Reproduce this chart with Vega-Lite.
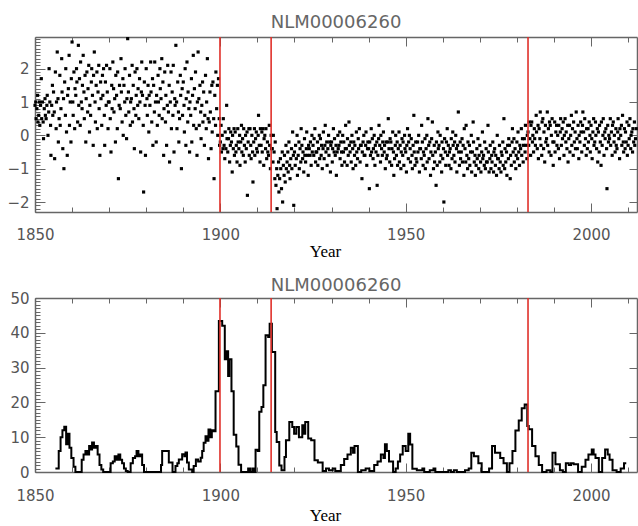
{
"$schema": "https://vega.github.io/schema/vega-lite/v6.json",
"padding": {"left": 6, "top": 13, "right": 0, "bottom": 0},
"config": {"view": {"stroke": null}, "axis": {"domainColor": "#666", "domainWidth": 1.5, "tickColor": "#666", "tickWidth": 1, "labelFont": "DejaVu Sans", "labelFontSize": 15, "labelColor": "#555", "grid": false}},
"spacing": 18,
"datasets": {
"brk": [{"yr": 1899.9}, {"yr": 1913.7}, {"yr": 1983.0}],
"st": [
{"t":1855.5,"v":1},{"t":1856.4,"v":6},{"t":1856.9,"v":10},{"t":1857.4,"v":12},{"t":1857.9,"v":13},{"t":1858.4,"v":8},{"t":1858.8,"v":11},{"t":1859.3,"v":7},{"t":1859.8,"v":4},{"t":1860.4,"v":1.5},{"t":1860.9,"v":0},
{"t":1862.6,"v":3.5},{"t":1863.1,"v":5},{"t":1863.6,"v":6},{"t":1864.1,"v":5},{"t":1864.6,"v":7.5},{"t":1865.1,"v":6.5},{"t":1865.4,"v":8.5},{"t":1865.9,"v":7},{"t":1866.4,"v":7.5},{"t":1866.9,"v":5},{"t":1867.4,"v":2},{"t":1867.9,"v":0.7},{"t":1868.4,"v":0},
{"t":1870.4,"v":2.5},{"t":1871.0,"v":3},{"t":1871.5,"v":4.5},{"t":1872.0,"v":3.5},{"t":1872.5,"v":5},{"t":1873.0,"v":3.5},{"t":1873.5,"v":2.5},{"t":1874.0,"v":1},{"t":1874.5,"v":0.3},{"t":1875.0,"v":0},
{"t":1875.8,"v":2.5},{"t":1876.4,"v":4},{"t":1877.0,"v":4.5},{"t":1877.4,"v":6},{"t":1877.9,"v":4.5},{"t":1878.4,"v":5},{"t":1878.9,"v":2},{"t":1879.4,"v":0},
{"t":1884.0,"v":2},{"t":1884.3,"v":6},{"t":1886.1,"v":2.7},{"t":1887.1,"v":0},{"t":1887.9,"v":1.7},{"t":1888.4,"v":2.5},{"t":1888.8,"v":3.6},{"t":1889.7,"v":5.1},{"t":1890.3,"v":4.5},{"t":1890.6,"v":5.6},{"t":1891.0,"v":2.7},{"t":1891.5,"v":0.7},{"t":1892.4,"v":0},
{"t":1892.8,"v":1.7},{"t":1893.4,"v":3.6},{"t":1894.0,"v":3},{"t":1894.7,"v":4.1},{"t":1895.1,"v":6},{"t":1895.5,"v":8.4},{"t":1896.0,"v":10.3},{"t":1896.4,"v":9},{"t":1896.8,"v":12.2},{"t":1897.3,"v":10},{"t":1897.7,"v":12},{"t":1898.2,"v":11.7},
{"t":1898.7,"v":23.2},{"t":1899.6,"v":43.4},{"t":1900.5,"v":42},{"t":1901.2,"v":32.4},{"t":1901.7,"v":34.7},{"t":1902.1,"v":27.6},{"t":1902.4,"v":32.4},{"t":1903.0,"v":23.2},{"t":1903.6,"v":10.7},{"t":1904.3,"v":7.3},{"t":1904.9,"v":2.1},{"t":1905.6,"v":0},
{"t":1907.5,"v":1},{"t":1908.0,"v":0},{"t":1908.6,"v":1},{"t":1909.0,"v":0},{"t":1909.5,"v":6.4},{"t":1910.1,"v":6},{"t":1910.5,"v":17.3},{"t":1911.1,"v":18.7},{"t":1911.6,"v":24.9},{"t":1912.2,"v":39.3},{"t":1912.9,"v":38.8},{"t":1913.3,"v":42.6},{"t":1913.9,"v":34.5},
{"t":1914.8,"v":11.5},{"t":1915.2,"v":8.6},{"t":1915.9,"v":1.9},{"t":1916.5,"v":0.5},{"t":1917.3,"v":4.3},{"t":1917.7,"v":9.1},{"t":1918.6,"v":14.4},{"t":1919.4,"v":12.9},{"t":1919.9,"v":11},{"t":1920.5,"v":12.9},{"t":1921.2,"v":10},{"t":1922.1,"v":13.4},{"t":1922.5,"v":11},{"t":1922.9,"v":14.4},{"t":1923.7,"v":9.6},{"t":1924.5,"v":9.1},{"t":1925.4,"v":3.4},
{"t":1926.3,"v":2.7},{"t":1927.6,"v":0.3},{"t":1928.5,"v":1},{"t":1929.3,"v":0.5},{"t":1930.3,"v":1},{"t":1931.0,"v":0.3},{"t":1932.5,"v":2},{"t":1933.4,"v":3.7},{"t":1934.3,"v":5},{"t":1935.2,"v":7},{"t":1935.8,"v":5.5},{"t":1936.2,"v":7.5},{"t":1937.1,"v":0},
{"t":1938.0,"v":0.5},{"t":1939.2,"v":1},{"t":1940.2,"v":0.3},{"t":1941.5,"v":2},{"t":1942.4,"v":3},{"t":1943.3,"v":5},{"t":1944.0,"v":4},{"t":1944.4,"v":8},{"t":1944.9,"v":6},{"t":1945.5,"v":3},{"t":1946.6,"v":0},
{"t":1947.3,"v":1},{"t":1947.9,"v":3},{"t":1948.5,"v":5},{"t":1949.2,"v":7.5},{"t":1950.0,"v":6},{"t":1950.7,"v":11},{"t":1951.2,"v":7.9},{"t":1951.8,"v":0.9},{"t":1953.0,"v":0.5},{"t":1954.5,"v":1},{"t":1955.0,"v":0},
{"t":1956.5,"v":0.5},{"t":1957.5,"v":1},{"t":1958.0,"v":0},{"t":1961.5,"v":0.5},{"t":1962.2,"v":0},{"t":1963.0,"v":0.5},{"t":1963.8,"v":0},{"t":1966.0,"v":0.5},{"t":1967.0,"v":1},
{"t":1967.7,"v":5.5},{"t":1968.4,"v":4.5},{"t":1969.6,"v":2.5},{"t":1970.5,"v":0},{"t":1972.5,"v":1},{"t":1973.3,"v":7.5},{"t":1974.1,"v":5.5},{"t":1975.5,"v":4},{"t":1976.4,"v":2.5},{"t":1977.3,"v":0},
{"t":1978.0,"v":2.5},{"t":1978.8,"v":6},{"t":1979.6,"v":11.9},{"t":1980.5,"v":14.8},{"t":1981.3,"v":18.3},{"t":1982.1,"v":19.4},{"t":1982.8,"v":13.2},{"t":1983.2,"v":12.3},{"t":1984.1,"v":7.5},{"t":1985.0,"v":4.5},{"t":1985.9,"v":2},{"t":1986.8,"v":0},
{"t":1988.0,"v":0.5},{"t":1989.0,"v":0},{"t":1989.6,"v":5.5},{"t":1990.4,"v":2.2},{"t":1991.6,"v":0.5},{"t":1992.4,"v":0},{"t":1993.2,"v":2.5},{"t":1994.0,"v":2},{"t":1994.6,"v":2.5},{"t":1995.3,"v":2.2},{"t":1996.5,"v":0},
{"t":1997.5,"v":1.5},{"t":1998.5,"v":3.5},{"t":1999.3,"v":5},{"t":2000.2,"v":6.5},{"t":2000.7,"v":5},{"t":2001.2,"v":4},{"t":2002.1,"v":0},{"t":2003.0,"v":4},{"t":2003.8,"v":6.5},{"t":2004.5,"v":5},{"t":2005.0,"v":3.5},{"t":2005.8,"v":0.5},{"t":2006.9,"v":0},{"t":2008.0,"v":1},{"t":2008.9,"v":2.5},{"t":2009.5,"v":2.5}
],
"pts": [
{"t":1850.0,"v":0.9},{"t":1850.2,"v":1.0},{"t":1850.3,"v":0.5},{"t":1850.5,"v":0.8},{"t":1850.7,"v":1.2},{"t":1850.8,"v":0.4},
{"t":1851.0,"v":0.6},{"t":1851.2,"v":1.0},{"t":1851.3,"v":0.3},{"t":1851.5,"v":0.9},{"t":1851.7,"v":1.7},{"t":1851.8,"v":0.5},
{"t":1852.0,"v":1.0},{"t":1852.2,"v":0.4},{"t":1852.3,"v":-0.1},{"t":1852.5,"v":0.8},{"t":1852.7,"v":1.1},{"t":1852.8,"v":0.6},
{"t":1853.0,"v":0.5},{"t":1853.2,"v":0.9},{"t":1853.3,"v":1.2},{"t":1853.5,"v":0.0},{"t":1853.7,"v":0.7},{"t":1853.8,"v":2.0},
{"t":1854.0,"v":1.0},{"t":1854.2,"v":0.3},{"t":1854.3,"v":-0.6},{"t":1854.5,"v":0.9},{"t":1854.7,"v":1.5},{"t":1854.8,"v":0.6},
{"t":1855.0,"v":1.3},{"t":1855.2,"v":0.7},{"t":1855.3,"v":-0.7},{"t":1855.5,"v":1.9},{"t":1855.7,"v":0.2},{"t":1855.8,"v":1.0},
{"t":1856.0,"v":2.5},{"t":1856.2,"v":1.1},{"t":1856.3,"v":-0.2},{"t":1856.5,"v":0.5},{"t":1856.7,"v":1.8},{"t":1856.8,"v":0.3},
{"t":1857.0,"v":0.8},{"t":1857.2,"v":2.3},{"t":1857.3,"v":1.3},{"t":1857.5,"v":-0.4},{"t":1857.7,"v":1.1},{"t":1857.8,"v":-1.0},
{"t":1858.0,"v":1.6},{"t":1858.2,"v":0.6},{"t":1858.3,"v":2.0},{"t":1858.5,"v":0.1},{"t":1858.7,"v":-0.6},{"t":1858.8,"v":1.2},
{"t":1859.0,"v":1.4},{"t":1859.2,"v":2.4},{"t":1859.3,"v":0.3},{"t":1859.5,"v":1.0},{"t":1859.7,"v":-0.2},{"t":1859.8,"v":1.7},
{"t":1860.0,"v":2.8},{"t":1860.2,"v":1.0},{"t":1860.3,"v":0.6},{"t":1860.5,"v":1.9},{"t":1860.7,"v":0.2},{"t":1860.8,"v":1.4},
{"t":1861.0,"v":1.2},{"t":1861.2,"v":2.0},{"t":1861.3,"v":1.6},{"t":1861.5,"v":0.4},{"t":1861.7,"v":2.7},{"t":1861.8,"v":0.9},
{"t":1862.0,"v":1.7},{"t":1862.2,"v":0.3},{"t":1862.3,"v":2.2},{"t":1862.5,"v":1.0},{"t":1862.7,"v":0.8},{"t":1862.8,"v":1.5},
{"t":1863.0,"v":2.4},{"t":1863.2,"v":1.3},{"t":1863.3,"v":0.5},{"t":1863.5,"v":1.8},{"t":1863.7,"v":-0.2},{"t":1863.8,"v":1.1},
{"t":1864.0,"v":1.9},{"t":1864.2,"v":0.7},{"t":1864.3,"v":1.4},{"t":1864.5,"v":2.1},{"t":1864.7,"v":0.1},{"t":1864.8,"v":0.9},
{"t":1865.0,"v":0.6},{"t":1865.2,"v":1.6},{"t":1865.3,"v":2.0},{"t":1865.5,"v":1.2},{"t":1865.7,"v":-0.3},{"t":1865.8,"v":1.8},
{"t":1866.0,"v":2.5},{"t":1866.2,"v":1.0},{"t":1866.3,"v":0.4},{"t":1866.5,"v":1.5},{"t":1866.7,"v":1.9},{"t":1866.8,"v":0.2},
{"t":1867.0,"v":1.3},{"t":1867.2,"v":2.1},{"t":1867.3,"v":0.8},{"t":1867.5,"v":-0.6},{"t":1867.7,"v":1.6},{"t":1867.8,"v":1.1},
{"t":1868.0,"v":0.3},{"t":1868.2,"v":1.8},{"t":1868.3,"v":1.2},{"t":1868.5,"v":2.0},{"t":1868.7,"v":0.6},{"t":1868.8,"v":-0.3},
{"t":1869.0,"v":1.6},{"t":1869.2,"v":0.9},{"t":1869.3,"v":2.1},{"t":1869.5,"v":1.3},{"t":1869.7,"v":0.2},{"t":1869.8,"v":1.0},
{"t":1870.0,"v":1.0},{"t":1870.2,"v":2.0},{"t":1870.3,"v":0.5},{"t":1870.5,"v":-0.5},{"t":1870.7,"v":1.5},{"t":1870.8,"v":0.8},
{"t":1871.0,"v":2.2},{"t":1871.2,"v":1.4},{"t":1871.3,"v":0.7},{"t":1871.5,"v":1.1},{"t":1871.7,"v":-0.2},{"t":1871.8,"v":1.8},
{"t":1872.0,"v":1.2},{"t":1872.2,"v":0.2},{"t":1872.3,"v":1.9},{"t":1872.5,"v":-1.3},{"t":1872.7,"v":0.9},{"t":1872.8,"v":1.5},
{"t":1873.0,"v":0.8},{"t":1873.2,"v":2.3},{"t":1873.3,"v":1.3},{"t":1873.5,"v":0.4},{"t":1873.7,"v":1.7},{"t":1873.8,"v":0.0},
{"t":1874.0,"v":1.5},{"t":1874.2,"v":1.0},{"t":1874.3,"v":2.0},{"t":1874.5,"v":0.6},{"t":1874.7,"v":-0.1},{"t":1874.8,"v":1.1},
{"t":1875.0,"v":2.9},{"t":1875.2,"v":1.3},{"t":1875.3,"v":0.7},{"t":1875.5,"v":1.8},{"t":1875.7,"v":0.3},{"t":1875.8,"v":1.0},
{"t":1876.0,"v":1.1},{"t":1876.2,"v":2.1},{"t":1876.3,"v":0.4},{"t":1876.5,"v":1.5},{"t":1876.7,"v":0.8},{"t":1876.8,"v":-0.4},
{"t":1877.0,"v":1.9},{"t":1877.2,"v":0.6},{"t":1877.3,"v":1.2},{"t":1877.5,"v":2.0},{"t":1877.7,"v":0.9},{"t":1877.8,"v":1.4},
{"t":1878.0,"v":0.5},{"t":1878.2,"v":1.7},{"t":1878.3,"v":1.0},{"t":1878.5,"v":-0.5},{"t":1878.7,"v":1.3},{"t":1878.8,"v":2.2},
{"t":1879.0,"v":1.2},{"t":1879.2,"v":0.3},{"t":1879.3,"v":-1.7},{"t":1879.5,"v":1.6},{"t":1879.7,"v":0.9},{"t":1879.8,"v":-0.6},
{"t":1880.0,"v":2.0},{"t":1880.2,"v":1.1},{"t":1880.3,"v":0.6},{"t":1880.5,"v":1.5},{"t":1880.7,"v":0.1},{"t":1880.8,"v":1.2},
{"t":1881.0,"v":0.9},{"t":1881.2,"v":2.2},{"t":1881.3,"v":1.3},{"t":1881.5,"v":0.4},{"t":1881.7,"v":1.7},{"t":1881.8,"v":-0.3},
{"t":1882.0,"v":1.5},{"t":1882.2,"v":0.7},{"t":1882.3,"v":2.2},{"t":1882.5,"v":1.0},{"t":1882.7,"v":-0.2},{"t":1882.8,"v":1.2},
{"t":1883.0,"v":0.3},{"t":1883.2,"v":1.8},{"t":1883.3,"v":1.0},{"t":1883.5,"v":0.6},{"t":1883.7,"v":2.0},{"t":1883.8,"v":1.4},
{"t":1884.0,"v":1.1},{"t":1884.2,"v":2.3},{"t":1884.3,"v":0.5},{"t":1884.5,"v":1.6},{"t":1884.7,"v":-0.6},{"t":1884.8,"v":0.8},
{"t":1885.0,"v":1.9},{"t":1885.2,"v":0.4},{"t":1885.3,"v":1.2},{"t":1885.5,"v":-0.3},{"t":1885.7,"v":0.9},{"t":1885.8,"v":2.1},
{"t":1886.0,"v":0.7},{"t":1886.2,"v":1.5},{"t":1886.3,"v":-0.8},{"t":1886.5,"v":1.0},{"t":1886.7,"v":1.9},{"t":1886.8,"v":0.2},
{"t":1887.0,"v":1.3},{"t":1887.2,"v":0.6},{"t":1887.3,"v":2.1},{"t":1887.5,"v":-0.5},{"t":1887.7,"v":1.1},{"t":1887.8,"v":0.9},
{"t":1888.0,"v":2.7},{"t":1888.2,"v":1.0},{"t":1888.3,"v":0.2},{"t":1888.5,"v":1.6},{"t":1888.7,"v":0.7},{"t":1888.8,"v":-0.2},
{"t":1889.0,"v":0.5},{"t":1889.2,"v":1.8},{"t":1889.3,"v":1.2},{"t":1889.5,"v":-1.0},{"t":1889.7,"v":1.4},{"t":1889.8,"v":0.6},
{"t":1890.0,"v":1.6},{"t":1890.2,"v":0.9},{"t":1890.3,"v":0.1},{"t":1890.5,"v":2.0},{"t":1890.7,"v":-0.3},{"t":1890.8,"v":1.1},
{"t":1891.0,"v":2.2},{"t":1891.2,"v":0.4},{"t":1891.3,"v":1.3},{"t":1891.5,"v":0.8},{"t":1891.7,"v":-0.5},{"t":1891.8,"v":1.0},
{"t":1892.0,"v":0.6},{"t":1892.2,"v":1.7},{"t":1892.3,"v":-0.2},{"t":1892.5,"v":1.2},{"t":1892.7,"v":2.4},{"t":1892.8,"v":0.3},
{"t":1893.0,"v":1.4},{"t":1893.2,"v":0.8},{"t":1893.3,"v":1.9},{"t":1893.5,"v":0.2},{"t":1893.7,"v":-0.6},{"t":1893.8,"v":1.0},
{"t":1894.0,"v":2.5},{"t":1894.2,"v":1.1},{"t":1894.3,"v":0.3},{"t":1894.5,"v":1.5},{"t":1894.7,"v":0.7},{"t":1894.8,"v":-0.1},
{"t":1895.0,"v":0.9},{"t":1895.2,"v":1.6},{"t":1895.3,"v":0.4},{"t":1895.5,"v":1.3},{"t":1895.7,"v":-0.3},{"t":1895.8,"v":0.6},
{"t":1896.0,"v":1.8},{"t":1896.2,"v":0.2},{"t":1896.3,"v":1.0},{"t":1896.5,"v":2.3},{"t":1896.7,"v":0.5},{"t":1896.8,"v":-0.7},
{"t":1897.0,"v":0.4},{"t":1897.2,"v":1.3},{"t":1897.3,"v":0.7},{"t":1897.5,"v":-0.4},{"t":1897.7,"v":1.5},{"t":1897.8,"v":0.1},
{"t":1898.0,"v":1.6},{"t":1898.2,"v":0.5},{"t":1898.3,"v":-1.3},{"t":1898.5,"v":1.2},{"t":1898.7,"v":0.3},{"t":1898.8,"v":1.9},
{"t":1899.0,"v":0.8},{"t":1899.2,"v":1.5},{"t":1899.3,"v":0.0},{"t":1899.5,"v":1.7},{"t":1899.7,"v":0.5},{"t":1899.8,"v":-0.3},
{"t":1900.0,"v":-0.2},{"t":1900.2,"v":0.3},{"t":1900.3,"v":-0.5},{"t":1900.5,"v":0.0},{"t":1900.7,"v":-0.4},{"t":1900.8,"v":0.5},
{"t":1901.0,"v":-0.3},{"t":1901.2,"v":-0.7},{"t":1901.3,"v":0.1},{"t":1901.5,"v":-0.4},{"t":1901.7,"v":0.9},{"t":1901.8,"v":-0.1},
{"t":1902.0,"v":-0.5},{"t":1902.2,"v":-0.1},{"t":1902.3,"v":0.2},{"t":1902.5,"v":-0.8},{"t":1902.7,"v":-0.3},{"t":1902.8,"v":0.1},
{"t":1903.0,"v":-0.2},{"t":1903.2,"v":-1.1},{"t":1903.3,"v":0.0},{"t":1903.5,"v":-0.4},{"t":1903.7,"v":0.2},{"t":1903.8,"v":-0.6},
{"t":1904.0,"v":0.1},{"t":1904.2,"v":-0.5},{"t":1904.3,"v":-0.3},{"t":1904.5,"v":-0.8},{"t":1904.7,"v":0.2},{"t":1904.8,"v":-0.2},
{"t":1905.0,"v":-0.4},{"t":1905.2,"v":0.0},{"t":1905.3,"v":-0.9},{"t":1905.5,"v":-0.2},{"t":1905.7,"v":0.3},{"t":1905.8,"v":-0.5},
{"t":1906.0,"v":-0.1},{"t":1906.2,"v":-0.6},{"t":1906.3,"v":0.2},{"t":1906.5,"v":-0.3},{"t":1906.7,"v":-0.8},{"t":1906.8,"v":0.0},
{"t":1907.0,"v":-0.4},{"t":1907.2,"v":0.1},{"t":1907.3,"v":-1.8},{"t":1907.5,"v":-0.2},{"t":1907.7,"v":0.2},{"t":1907.8,"v":-0.6},
{"t":1908.0,"v":0.2},{"t":1908.2,"v":-0.3},{"t":1908.3,"v":-0.7},{"t":1908.5,"v":0.0},{"t":1908.7,"v":-0.5},{"t":1908.8,"v":-1.4},
{"t":1909.0,"v":-0.2},{"t":1909.2,"v":0.2},{"t":1909.3,"v":-0.6},{"t":1909.5,"v":-0.1},{"t":1909.7,"v":0.1},{"t":1909.8,"v":-0.4},
{"t":1910.0,"v":-0.5},{"t":1910.2,"v":0.0},{"t":1910.3,"v":0.6},{"t":1910.5,"v":-0.3},{"t":1910.7,"v":-0.8},{"t":1910.8,"v":0.2},
{"t":1911.0,"v":-0.3},{"t":1911.2,"v":0.1},{"t":1911.3,"v":-0.5},{"t":1911.5,"v":0.2},{"t":1911.7,"v":-0.9},{"t":1911.8,"v":-0.1},
{"t":1912.0,"v":0.0},{"t":1912.2,"v":-0.4},{"t":1912.3,"v":0.2},{"t":1912.5,"v":-0.7},{"t":1912.7,"v":-0.2},{"t":1912.8,"v":-0.5},
{"t":1913.0,"v":-0.6},{"t":1913.2,"v":0.3},{"t":1913.3,"v":-0.3},{"t":1913.5,"v":-1.0},{"t":1913.7,"v":0.0},{"t":1913.8,"v":-0.4},
{"t":1914.0,"v":-0.4},{"t":1914.2,"v":-0.8},{"t":1914.3,"v":0.0},{"t":1914.5,"v":-0.5},{"t":1914.7,"v":-1.3},{"t":1914.8,"v":-0.2},
{"t":1915.0,"v":-1.5},{"t":1915.2,"v":-1.0},{"t":1915.3,"v":-2.2},{"t":1915.5,"v":-1.2},{"t":1915.7,"v":-0.8},{"t":1915.8,"v":-1.7},
{"t":1916.0,"v":-1.3},{"t":1916.2,"v":-0.7},{"t":1916.3,"v":-1.0},{"t":1916.5,"v":-1.6},{"t":1916.7,"v":-0.5},{"t":1916.8,"v":-2.0},
{"t":1917.0,"v":-0.9},{"t":1917.2,"v":-1.2},{"t":1917.3,"v":-0.6},{"t":1917.5,"v":-1.4},{"t":1917.7,"v":-0.3},{"t":1917.8,"v":-1.0},
{"t":1918.0,"v":-0.8},{"t":1918.2,"v":-0.5},{"t":1918.3,"v":-1.1},{"t":1918.5,"v":-0.2},{"t":1918.7,"v":-0.9},{"t":1918.8,"v":-1.3},
{"t":1919.0,"v":-0.7},{"t":1919.2,"v":-0.4},{"t":1919.3,"v":-1.0},{"t":1919.5,"v":0.1},{"t":1919.7,"v":-0.6},{"t":1919.8,"v":-2.1},
{"t":1920.0,"v":-0.5},{"t":1920.2,"v":-0.9},{"t":1920.3,"v":-0.3},{"t":1920.5,"v":-0.7},{"t":1920.7,"v":0.0},{"t":1920.8,"v":-1.2},
{"t":1921.0,"v":-0.6},{"t":1921.2,"v":-0.2},{"t":1921.3,"v":-1.0},{"t":1921.5,"v":-0.4},{"t":1921.7,"v":-0.8},{"t":1921.8,"v":0.2},
{"t":1922.0,"v":-0.3},{"t":1922.2,"v":-0.7},{"t":1922.3,"v":-0.5},{"t":1922.5,"v":-1.1},{"t":1922.7,"v":-0.1},{"t":1922.8,"v":-0.6},
{"t":1923.0,"v":-0.8},{"t":1923.2,"v":-0.4},{"t":1923.3,"v":0.1},{"t":1923.5,"v":-0.6},{"t":1923.7,"v":-1.2},{"t":1923.8,"v":-0.3},
{"t":1924.0,"v":-0.4},{"t":1924.2,"v":-0.6},{"t":1924.3,"v":-0.2},{"t":1924.5,"v":-0.9},{"t":1924.7,"v":0.0},{"t":1924.8,"v":-0.5},
{"t":1925.0,"v":-0.3},{"t":1925.2,"v":-0.6},{"t":1925.3,"v":-0.1},{"t":1925.5,"v":0.2},{"t":1925.7,"v":-0.8},{"t":1925.8,"v":-0.5},
{"t":1926.0,"v":-0.5},{"t":1926.2,"v":-0.2},{"t":1926.3,"v":-0.9},{"t":1926.5,"v":-0.4},{"t":1926.7,"v":0.0},{"t":1926.8,"v":-0.7},
{"t":1927.0,"v":-0.1},{"t":1927.2,"v":-0.6},{"t":1927.3,"v":-0.3},{"t":1927.5,"v":-1.0},{"t":1927.7,"v":-0.4},{"t":1927.8,"v":0.1},
{"t":1928.0,"v":-0.7},{"t":1928.2,"v":-0.3},{"t":1928.3,"v":0.3},{"t":1928.5,"v":-0.5},{"t":1928.7,"v":-0.2},{"t":1928.8,"v":-0.9},
{"t":1929.0,"v":-0.4},{"t":1929.2,"v":0.0},{"t":1929.3,"v":-0.6},{"t":1929.5,"v":-0.2},{"t":1929.7,"v":-1.1},{"t":1929.8,"v":-0.3},
{"t":1930.0,"v":-0.2},{"t":1930.2,"v":-0.8},{"t":1930.3,"v":-0.4},{"t":1930.5,"v":0.2},{"t":1930.7,"v":-0.5},{"t":1930.8,"v":-0.1},
{"t":1931.0,"v":-0.6},{"t":1931.2,"v":-0.3},{"t":1931.3,"v":-1.2},{"t":1931.5,"v":-0.5},{"t":1931.7,"v":0.0},{"t":1931.8,"v":-0.4},
{"t":1932.0,"v":-0.3},{"t":1932.2,"v":0.1},{"t":1932.3,"v":-0.7},{"t":1932.5,"v":-0.2},{"t":1932.7,"v":-0.5},{"t":1932.8,"v":-0.9},
{"t":1933.0,"v":0.0},{"t":1933.2,"v":-0.5},{"t":1933.3,"v":-0.2},{"t":1933.5,"v":-0.8},{"t":1933.7,"v":-0.4},{"t":1933.8,"v":0.3},
{"t":1934.0,"v":-0.4},{"t":1934.2,"v":-0.9},{"t":1934.3,"v":-0.1},{"t":1934.5,"v":-0.6},{"t":1934.7,"v":0.4},{"t":1934.8,"v":-0.3},
{"t":1935.0,"v":-0.5},{"t":1935.2,"v":-0.2},{"t":1935.3,"v":-0.8},{"t":1935.5,"v":0.0},{"t":1935.7,"v":-0.4},{"t":1935.8,"v":-1.0},
{"t":1936.0,"v":-0.2},{"t":1936.2,"v":-0.6},{"t":1936.3,"v":-0.3},{"t":1936.5,"v":-0.9},{"t":1936.7,"v":0.1},{"t":1936.8,"v":-0.5},
{"t":1937.0,"v":-0.7},{"t":1937.2,"v":-0.1},{"t":1937.3,"v":-0.4},{"t":1937.5,"v":0.2},{"t":1937.7,"v":-0.8},{"t":1937.8,"v":-0.3},
{"t":1938.0,"v":-0.3},{"t":1938.2,"v":-1.3},{"t":1938.3,"v":-0.5},{"t":1938.5,"v":-0.2},{"t":1938.7,"v":0.0},{"t":1938.8,"v":-0.6},
{"t":1939.0,"v":-0.6},{"t":1939.2,"v":-0.3},{"t":1939.3,"v":0.1},{"t":1939.5,"v":-0.9},{"t":1939.7,"v":-0.4},{"t":1939.8,"v":-0.2},
{"t":1940.0,"v":-0.4},{"t":1940.2,"v":-1.6},{"t":1940.3,"v":-0.2},{"t":1940.5,"v":-0.6},{"t":1940.7,"v":0.2},{"t":1940.8,"v":-0.5},
{"t":1941.0,"v":-0.1},{"t":1941.2,"v":-0.7},{"t":1941.3,"v":-0.4},{"t":1941.5,"v":0.0},{"t":1941.7,"v":-0.9},{"t":1941.8,"v":-0.3},
{"t":1942.0,"v":-0.5},{"t":1942.2,"v":-0.2},{"t":1942.3,"v":-1.5},{"t":1942.5,"v":-0.6},{"t":1942.7,"v":-0.1},{"t":1942.8,"v":0.3},
{"t":1943.0,"v":-0.3},{"t":1943.2,"v":-0.8},{"t":1943.3,"v":0.0},{"t":1943.5,"v":-0.4},{"t":1943.7,"v":-0.6},{"t":1943.8,"v":-0.2},
{"t":1944.0,"v":0.1},{"t":1944.2,"v":-0.5},{"t":1944.3,"v":-0.3},{"t":1944.5,"v":-1.0},{"t":1944.7,"v":-0.2},{"t":1944.8,"v":-0.7},
{"t":1945.0,"v":-0.6},{"t":1945.2,"v":-0.2},{"t":1945.3,"v":0.5},{"t":1945.5,"v":-0.4},{"t":1945.7,"v":-0.8},{"t":1945.8,"v":-0.1},
{"t":1946.0,"v":-0.2},{"t":1946.2,"v":-0.9},{"t":1946.3,"v":-0.4},{"t":1946.5,"v":0.1},{"t":1946.7,"v":-0.5},{"t":1946.8,"v":-1.2},
{"t":1947.0,"v":-0.7},{"t":1947.2,"v":-0.3},{"t":1947.3,"v":0.0},{"t":1947.5,"v":-0.6},{"t":1947.7,"v":-0.2},{"t":1947.8,"v":-0.9},
{"t":1948.0,"v":-0.4},{"t":1948.2,"v":0.1},{"t":1948.3,"v":-0.8},{"t":1948.5,"v":-0.3},{"t":1948.7,"v":-1.0},{"t":1948.8,"v":-0.5},
{"t":1949.0,"v":-0.1},{"t":1949.2,"v":-0.6},{"t":1949.3,"v":-0.2},{"t":1949.5,"v":-0.9},{"t":1949.7,"v":0.0},{"t":1949.8,"v":-0.4},
{"t":1950.0,"v":-0.5},{"t":1950.2,"v":-1.1},{"t":1950.3,"v":-0.3},{"t":1950.5,"v":0.2},{"t":1950.7,"v":-0.7},{"t":1950.8,"v":-0.2},
{"t":1951.0,"v":0.0},{"t":1951.2,"v":-0.4},{"t":1951.3,"v":-0.8},{"t":1951.5,"v":-0.1},{"t":1951.7,"v":-0.6},{"t":1951.8,"v":-1.0},
{"t":1952.0,"v":-0.3},{"t":1952.2,"v":0.6},{"t":1952.3,"v":-0.5},{"t":1952.5,"v":-0.9},{"t":1952.7,"v":-0.2},{"t":1952.8,"v":-0.7},
{"t":1953.0,"v":-0.8},{"t":1953.2,"v":-0.2},{"t":1953.3,"v":-0.5},{"t":1953.5,"v":0.0},{"t":1953.7,"v":-1.1},{"t":1953.8,"v":-0.4},
{"t":1954.0,"v":-0.4},{"t":1954.2,"v":-0.7},{"t":1954.3,"v":0.3},{"t":1954.5,"v":-0.2},{"t":1954.7,"v":-0.9},{"t":1954.8,"v":-0.5},
{"t":1955.0,"v":-0.6},{"t":1955.2,"v":-0.1},{"t":1955.3,"v":-1.0},{"t":1955.5,"v":-0.4},{"t":1955.7,"v":0.0},{"t":1955.8,"v":-0.8},
{"t":1956.0,"v":0.5},{"t":1956.2,"v":-0.3},{"t":1956.3,"v":-0.7},{"t":1956.5,"v":-0.2},{"t":1956.7,"v":-1.2},{"t":1956.8,"v":-0.5},
{"t":1957.0,"v":-0.1},{"t":1957.2,"v":0.4},{"t":1957.3,"v":-0.6},{"t":1957.5,"v":-1.0},{"t":1957.7,"v":-0.3},{"t":1957.8,"v":-0.8},
{"t":1958.0,"v":-0.5},{"t":1958.2,"v":-1.5},{"t":1958.3,"v":-0.2},{"t":1958.5,"v":-0.9},{"t":1958.7,"v":0.1},{"t":1958.8,"v":-0.4},
{"t":1959.0,"v":-0.3},{"t":1959.2,"v":-0.8},{"t":1959.3,"v":0.0},{"t":1959.5,"v":-0.6},{"t":1959.7,"v":-1.1},{"t":1959.8,"v":-0.2},
{"t":1960.0,"v":-0.7},{"t":1960.2,"v":-0.4},{"t":1960.3,"v":-2.0},{"t":1960.5,"v":-0.1},{"t":1960.7,"v":-0.5},{"t":1960.8,"v":-0.9},
{"t":1961.0,"v":-0.2},{"t":1961.2,"v":0.2},{"t":1961.3,"v":-0.6},{"t":1961.5,"v":-0.3},{"t":1961.7,"v":-0.9},{"t":1961.8,"v":-0.5},
{"t":1962.0,"v":-0.4},{"t":1962.2,"v":-1.0},{"t":1962.3,"v":-0.1},{"t":1962.5,"v":-0.7},{"t":1962.7,"v":0.1},{"t":1962.8,"v":-0.3},
{"t":1963.0,"v":-0.6},{"t":1963.2,"v":-0.2},{"t":1963.3,"v":-0.8},{"t":1963.5,"v":0.0},{"t":1963.7,"v":-0.4},{"t":1963.8,"v":-1.1},
{"t":1964.0,"v":-0.3},{"t":1964.2,"v":0.7},{"t":1964.3,"v":-0.5},{"t":1964.5,"v":-0.9},{"t":1964.7,"v":-0.2},{"t":1964.8,"v":-0.7},
{"t":1965.0,"v":-0.5},{"t":1965.2,"v":-0.1},{"t":1965.3,"v":-0.8},{"t":1965.5,"v":-0.3},{"t":1965.7,"v":-1.2},{"t":1965.8,"v":0.2},
{"t":1966.0,"v":-0.4},{"t":1966.2,"v":-0.8},{"t":1966.3,"v":0.3},{"t":1966.5,"v":-0.6},{"t":1966.7,"v":-1.0},{"t":1966.8,"v":-0.2},
{"t":1967.0,"v":-0.7},{"t":1967.2,"v":-0.3},{"t":1967.3,"v":-0.9},{"t":1967.5,"v":-0.5},{"t":1967.7,"v":0.0},{"t":1967.8,"v":-1.1},
{"t":1968.0,"v":-0.5},{"t":1968.2,"v":0.4},{"t":1968.3,"v":-0.2},{"t":1968.5,"v":-0.8},{"t":1968.7,"v":-0.6},{"t":1968.8,"v":-1.2},
{"t":1969.0,"v":-0.9},{"t":1969.2,"v":-0.4},{"t":1969.3,"v":-0.7},{"t":1969.5,"v":-0.1},{"t":1969.7,"v":-1.0},{"t":1969.8,"v":-0.6},
{"t":1970.0,"v":-0.3},{"t":1970.2,"v":-0.8},{"t":1970.3,"v":-1.1},{"t":1970.5,"v":-0.5},{"t":1970.7,"v":0.1},{"t":1970.8,"v":-0.7},
{"t":1971.0,"v":-0.6},{"t":1971.2,"v":-0.9},{"t":1971.3,"v":-0.2},{"t":1971.5,"v":-1.0},{"t":1971.7,"v":-0.4},{"t":1971.8,"v":-0.8},
{"t":1972.0,"v":-0.8},{"t":1972.2,"v":0.3},{"t":1972.3,"v":-0.5},{"t":1972.5,"v":-1.1},{"t":1972.7,"v":-0.7},{"t":1972.8,"v":-0.3},
{"t":1973.0,"v":-1.0},{"t":1973.2,"v":-0.6},{"t":1973.3,"v":-0.8},{"t":1973.5,"v":-0.2},{"t":1973.7,"v":-1.1},{"t":1973.8,"v":-0.5},
{"t":1974.0,"v":-0.4},{"t":1974.2,"v":-0.9},{"t":1974.3,"v":-0.6},{"t":1974.5,"v":-1.2},{"t":1974.7,"v":0.0},{"t":1974.8,"v":-0.7},
{"t":1975.0,"v":-0.7},{"t":1975.2,"v":-1.0},{"t":1975.3,"v":-0.3},{"t":1975.5,"v":-0.8},{"t":1975.7,"v":-1.1},{"t":1975.8,"v":-0.5},
{"t":1976.0,"v":-0.6},{"t":1976.2,"v":-0.2},{"t":1976.3,"v":-0.9},{"t":1976.5,"v":0.5},{"t":1976.7,"v":-1.0},{"t":1976.8,"v":-0.4},
{"t":1977.0,"v":-0.8},{"t":1977.2,"v":-0.5},{"t":1977.3,"v":-1.2},{"t":1977.5,"v":-0.3},{"t":1977.7,"v":-0.7},{"t":1977.8,"v":-0.1},
{"t":1978.0,"v":-0.3},{"t":1978.2,"v":-1.3},{"t":1978.3,"v":-0.6},{"t":1978.5,"v":-0.9},{"t":1978.7,"v":-0.2},{"t":1978.8,"v":0.2},
{"t":1979.0,"v":-0.5},{"t":1979.2,"v":-0.1},{"t":1979.3,"v":-0.8},{"t":1979.5,"v":-0.4},{"t":1979.7,"v":-1.0},{"t":1979.8,"v":-0.6},
{"t":1980.0,"v":-0.2},{"t":1980.2,"v":-0.7},{"t":1980.3,"v":0.1},{"t":1980.5,"v":-0.5},{"t":1980.7,"v":-0.9},{"t":1980.8,"v":-0.3},
{"t":1981.0,"v":-0.4},{"t":1981.2,"v":0.2},{"t":1981.3,"v":-0.6},{"t":1981.5,"v":-0.1},{"t":1981.7,"v":-0.8},{"t":1981.8,"v":-0.3},
{"t":1982.0,"v":-0.1},{"t":1982.2,"v":-0.5},{"t":1982.3,"v":0.3},{"t":1982.5,"v":-0.3},{"t":1982.7,"v":-0.7},{"t":1982.8,"v":0.0},
{"t":1983.0,"v":0.1},{"t":1983.2,"v":-0.3},{"t":1983.3,"v":0.4},{"t":1983.5,"v":-0.1},{"t":1983.7,"v":-0.6},{"t":1983.8,"v":0.3},
{"t":1984.0,"v":0.4},{"t":1984.2,"v":-0.2},{"t":1984.3,"v":0.0},{"t":1984.5,"v":-0.5},{"t":1984.7,"v":0.2},{"t":1984.8,"v":-0.1},
{"t":1985.0,"v":-0.3},{"t":1985.2,"v":0.6},{"t":1985.3,"v":0.1},{"t":1985.5,"v":-0.4},{"t":1985.7,"v":0.3},{"t":1985.8,"v":-0.7},
{"t":1986.0,"v":0.2},{"t":1986.2,"v":-0.1},{"t":1986.3,"v":0.7},{"t":1986.5,"v":-0.3},{"t":1986.7,"v":-0.6},{"t":1986.8,"v":0.4},
{"t":1987.0,"v":0.5},{"t":1987.2,"v":-0.4},{"t":1987.3,"v":0.1},{"t":1987.5,"v":-0.8},{"t":1987.7,"v":0.3},{"t":1987.8,"v":-0.2},
{"t":1988.0,"v":-0.1},{"t":1988.2,"v":0.7},{"t":1988.3,"v":-0.3},{"t":1988.5,"v":0.2},{"t":1988.7,"v":-0.5},{"t":1988.8,"v":0.4},
{"t":1989.0,"v":0.3},{"t":1989.2,"v":-0.6},{"t":1989.3,"v":0.0},{"t":1989.5,"v":0.5},{"t":1989.7,"v":-0.2},{"t":1989.8,"v":-0.9},
{"t":1990.0,"v":-0.2},{"t":1990.2,"v":0.4},{"t":1990.3,"v":-0.5},{"t":1990.5,"v":0.1},{"t":1990.7,"v":0.3},{"t":1990.8,"v":-0.3},
{"t":1991.0,"v":0.0},{"t":1991.2,"v":-0.4},{"t":1991.3,"v":0.3},{"t":1991.5,"v":-0.7},{"t":1991.7,"v":0.1},{"t":1991.8,"v":0.5},
{"t":1992.0,"v":-0.3},{"t":1992.2,"v":0.2},{"t":1992.3,"v":-0.1},{"t":1992.5,"v":0.4},{"t":1992.7,"v":-0.6},{"t":1992.8,"v":0.0},
{"t":1993.0,"v":0.5},{"t":1993.2,"v":-0.2},{"t":1993.3,"v":0.1},{"t":1993.5,"v":-0.4},{"t":1993.7,"v":0.3},{"t":1993.8,"v":-0.8},
{"t":1994.0,"v":-0.1},{"t":1994.2,"v":0.3},{"t":1994.3,"v":-0.5},{"t":1994.5,"v":0.0},{"t":1994.7,"v":0.6},{"t":1994.8,"v":-0.3},
{"t":1995.0,"v":0.2},{"t":1995.2,"v":-0.6},{"t":1995.3,"v":0.4},{"t":1995.5,"v":-0.2},{"t":1995.7,"v":0.1},{"t":1995.8,"v":-0.4},
{"t":1996.0,"v":0.7},{"t":1996.2,"v":-0.1},{"t":1996.3,"v":-0.4},{"t":1996.5,"v":0.3},{"t":1996.7,"v":-0.7},{"t":1996.8,"v":0.0},
{"t":1997.0,"v":-0.2},{"t":1997.2,"v":0.4},{"t":1997.3,"v":0.1},{"t":1997.5,"v":-0.5},{"t":1997.7,"v":0.3},{"t":1997.8,"v":0.7},
{"t":1998.0,"v":0.1},{"t":1998.2,"v":-0.3},{"t":1998.3,"v":0.5},{"t":1998.5,"v":-0.1},{"t":1998.7,"v":-0.6},{"t":1998.8,"v":0.2},
{"t":1999.0,"v":-0.4},{"t":1999.2,"v":0.2},{"t":1999.3,"v":-0.2},{"t":1999.5,"v":0.4},{"t":1999.7,"v":0.0},{"t":1999.8,"v":-0.5},
{"t":2000.0,"v":0.3},{"t":2000.2,"v":-0.1},{"t":2000.3,"v":-0.7},{"t":2000.5,"v":0.1},{"t":2000.7,"v":0.5},{"t":2000.8,"v":-0.3},
{"t":2001.0,"v":-0.2},{"t":2001.2,"v":0.4},{"t":2001.3,"v":0.0},{"t":2001.5,"v":-0.4},{"t":2001.7,"v":0.2},{"t":2001.8,"v":-0.8},
{"t":2002.0,"v":0.1},{"t":2002.2,"v":-0.5},{"t":2002.3,"v":0.3},{"t":2002.5,"v":-0.2},{"t":2002.7,"v":-0.9},{"t":2002.8,"v":0.4},
{"t":2003.0,"v":-0.3},{"t":2003.2,"v":0.0},{"t":2003.3,"v":0.5},{"t":2003.5,"v":-0.6},{"t":2003.7,"v":0.1},{"t":2003.8,"v":-0.1},
{"t":2004.0,"v":0.2},{"t":2004.2,"v":-0.4},{"t":2004.3,"v":-1.6},{"t":2004.5,"v":0.3},{"t":2004.7,"v":-0.2},{"t":2004.8,"v":0.0},
{"t":2005.0,"v":-0.1},{"t":2005.2,"v":0.5},{"t":2005.3,"v":-0.3},{"t":2005.5,"v":0.1},{"t":2005.7,"v":-0.6},{"t":2005.8,"v":0.3},
{"t":2006.0,"v":0.4},{"t":2006.2,"v":-0.2},{"t":2006.3,"v":0.0},{"t":2006.5,"v":-0.5},{"t":2006.7,"v":0.2},{"t":2006.8,"v":-0.3},
{"t":2007.0,"v":-0.4},{"t":2007.2,"v":0.1},{"t":2007.3,"v":0.5},{"t":2007.5,"v":-0.1},{"t":2007.7,"v":-0.7},{"t":2007.8,"v":0.2},
{"t":2008.0,"v":0.0},{"t":2008.2,"v":0.3},{"t":2008.3,"v":-0.3},{"t":2008.5,"v":0.6},{"t":2008.7,"v":-0.2},{"t":2008.8,"v":-0.5},
{"t":2009.0,"v":0.2},{"t":2009.2,"v":-0.4},{"t":2009.3,"v":0.1},{"t":2009.5,"v":-0.2},{"t":2009.7,"v":0.4},{"t":2009.8,"v":-0.6},
{"t":2010.0,"v":-0.3},{"t":2010.2,"v":0.3},{"t":2010.3,"v":-0.1},{"t":2010.5,"v":0.5},{"t":2010.7,"v":-0.4},{"t":2010.8,"v":0.0},
{"t":2011.0,"v":0.1},{"t":2011.2,"v":-0.5},{"t":2011.3,"v":0.2},{"t":2011.5,"v":-0.2},{"t":2011.7,"v":0.4},{"t":2011.8,"v":-0.3},
{"t":2012.0,"v":-0.1},{"t":2012.2,"v":0.2}
]
},
"vconcat": [
{
"width": 602, "height": 175,
"title": {"text": "NLM00006260", "font": "DejaVu Sans", "fontSize": 18, "fontWeight": "normal", "color": "#666", "offset": 0},
"layer": [
{"data": {"name": "pts"}, "mark": {"type": "point", "shape": "square", "filled": true, "size": 10, "color": "#000", "opacity": 1},
"encoding": {
"x": {"field": "t", "type": "quantitative", "scale": {"domain": [1850, 2012.4], "nice": false, "zero": false},
"axis": {"orient": "bottom", "values": [1850,1860,1870,1880,1890,1900,1910,1920,1930,1940,1950,1960,1970,1980,1990,2000,2010], "format": "d", "labelExpr": "datum.value % 50 === 0 ? datum.label : ''", "tickSize": {"condition": {"test": "datum.value % 50 === 0", "value": -9}, "value": -5}, "labelPadding": 24, "labelFlush": false, "labelOverlap": false, "title": "Year", "titleFont": "Liberation Serif", "titleFontSize": 17, "titleFontWeight": "normal", "titleColor": "#000", "titleY": 31, "titleX": 290}},
"y": {"field": "v", "type": "quantitative", "scale": {"domain": [-2.3, 2.95], "nice": false, "zero": false},
"axis": {"orient": "left", "values": [-2.3,-2.2,-2.1,-2,-1.9,-1.8,-1.7,-1.6,-1.5,-1.4,-1.3,-1.2,-1.1,-1,-0.9,-0.8,-0.7,-0.6,-0.5,-0.4,-0.3,-0.2,-0.1,0,0.1,0.2,0.3,0.4,0.5,0.6,0.7,0.8,0.9,1,1.1,1.2,1.3,1.4,1.5,1.6,1.7,1.8,1.9,2,2.1,2.2,2.3,2.4,2.5,2.6,2.7,2.8,2.9], "labelExpr": "datum.value % 1 === 0 ? format(datum.value, 'd') : ''", "tickSize": {"condition": {"test": "datum.value % 1 === 0", "value": -10}, "value": -5}, "labelPadding": 16, "labelOverlap": false, "labelFlush": false, "title": null}}
}},
{"data": {"name": "brk"}, "mark": {"type": "rule", "color": "#e0302a", "strokeWidth": 1.6},
"encoding": {
"x": {"field": "yr", "type": "quantitative", "axis": {"orient": "top", "values": [1850,1860,1870,1880,1890,1900,1910,1920,1930,1940,1950,1960,1970,1980,1990,2000,2010], "labels": false, "tickSize": {"condition": {"test": "datum.value % 50 === 0", "value": -9}, "value": -5}, "title": null}},
"y": {"datum": -2.3, "type": "quantitative", "axis": {"orient": "right", "values": [-2,-1,0,1,2], "labels": false, "tickSize": -8, "title": null}},
"y2": {"datum": 2.95}
}}
],
"resolve": {"axis": {"x": "independent", "y": "independent"}}
},
{
"width": 602, "height": 174,
"title": {"text": "NLM00006260", "font": "DejaVu Sans", "fontSize": 18, "fontWeight": "normal", "color": "#666", "offset": -4},
"layer": [
{"data": {"name": "st"}, "mark": {"type": "line", "interpolate": "step-after", "color": "#000", "strokeWidth": 2},
"encoding": {
"x": {"field": "t", "type": "quantitative", "scale": {"domain": [1850, 2012.4], "nice": false, "zero": false},
"axis": {"orient": "bottom", "values": [1850,1860,1870,1880,1890,1900,1910,1920,1930,1940,1950,1960,1970,1980,1990,2000,2010], "format": "d", "labelExpr": "datum.value % 50 === 0 ? datum.label : ''", "tickSize": {"condition": {"test": "datum.value % 50 === 0", "value": -9}, "value": -5}, "labelPadding": 25, "labelFlush": false, "labelOverlap": false, "title": "Year", "titleFont": "Liberation Serif", "titleFontSize": 17, "titleFontWeight": "normal", "titleColor": "#000", "titleY": 35, "titleX": 290}},
"y": {"field": "v", "type": "quantitative", "scale": {"domain": [0, 50], "nice": false, "zero": false},
"axis": {"orient": "left", "values": [0,1,2,3,4,5,6,7,8,9,10,11,12,13,14,15,16,17,18,19,20,21,22,23,24,25,26,27,28,29,30,31,32,33,34,35,36,37,38,39,40,41,42,43,44,45,46,47,48,49,50], "format": "d", "labelExpr": "datum.value % 10 === 0 ? datum.label : ''", "tickSize": {"condition": {"test": "datum.value % 10 === 0", "value": -10}, "value": -5}, "labelPadding": 16, "labelOverlap": false, "labelFlush": false, "title": null}}
}},
{"data": {"name": "brk"}, "mark": {"type": "rule", "color": "#e0302a", "strokeWidth": 1.6},
"encoding": {
"x": {"field": "yr", "type": "quantitative", "axis": {"orient": "top", "values": [1850,1860,1870,1880,1890,1900,1910,1920,1930,1940,1950,1960,1970,1980,1990,2000,2010], "labels": false, "tickSize": {"condition": {"test": "datum.value % 50 === 0", "value": -9}, "value": -5}, "title": null}},
"y": {"datum": 0, "type": "quantitative", "axis": {"orient": "right", "values": [10,20,30,40], "labels": false, "tickSize": -8, "title": null}},
"y2": {"datum": 50}
}},
{"mark": {"type": "rule", "color": "#e0302a", "strokeWidth": 1.2},
"encoding": {"y": {"datum": 16, "type": "quantitative", "axis": null}}}
],
"resolve": {"axis": {"x": "independent", "y": "independent"}}
}
]
}
